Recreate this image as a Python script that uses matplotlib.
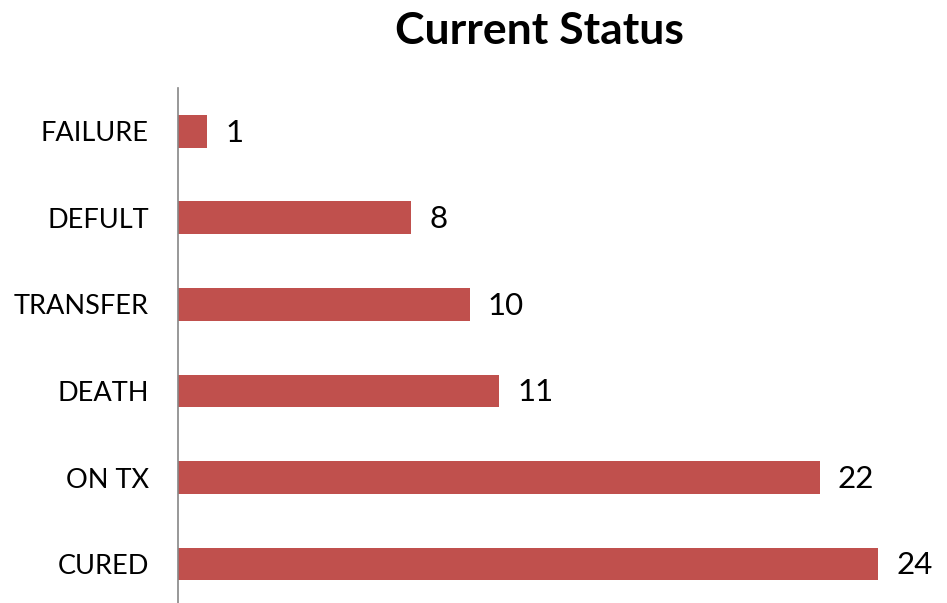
"""
horizontal bar chart of current patient status counts
"""

import matplotlib
matplotlib.use('Agg')
import matplotlib.pyplot as plt

# data
statuses = ['CURED', 'ON TX', 'DEATH', 'TRANSFER', 'DEFULT', 'FAILURE']
counts = [24, 22, 11, 10, 8, 1]

plt.rcParams['font.family'] = ['Lato', 'DejaVu Sans']

fig = plt.figure(figsize=(9.47, 6.03), dpi=100)
ax = fig.add_axes([0.188, 0.0, 0.812, 0.854])

positions = list(range(len(statuses)))
ax.barh(positions, counts, height=0.38, color='#C0504D')

# value labels at the end of each bar
for pos, val in zip(positions, counts):
    ax.annotate(str(val), xy=(val, pos), xytext=(13, -1),
                textcoords='offset points', va='center', ha='left',
                fontsize=22.5)

ax.set_xlim(0, 26.36)
ax.set_ylim(-0.45, 5.5)
ax.set_yticks(positions)
ax.set_yticklabels(statuses, fontsize=19.5)
ax.tick_params(axis='y', length=0, pad=21)
ax.set_xticks([])

for side in ['top', 'right', 'bottom']:
    ax.spines[side].set_visible(False)
ax.spines['left'].set_color('#868686')
ax.spines['left'].set_linewidth(1.2)

fig.text(0.57, 0.948, 'Current Status', ha='center', va='center',
         fontsize=32, fontweight='bold')

fig.savefig('out.png', dpi=100)
